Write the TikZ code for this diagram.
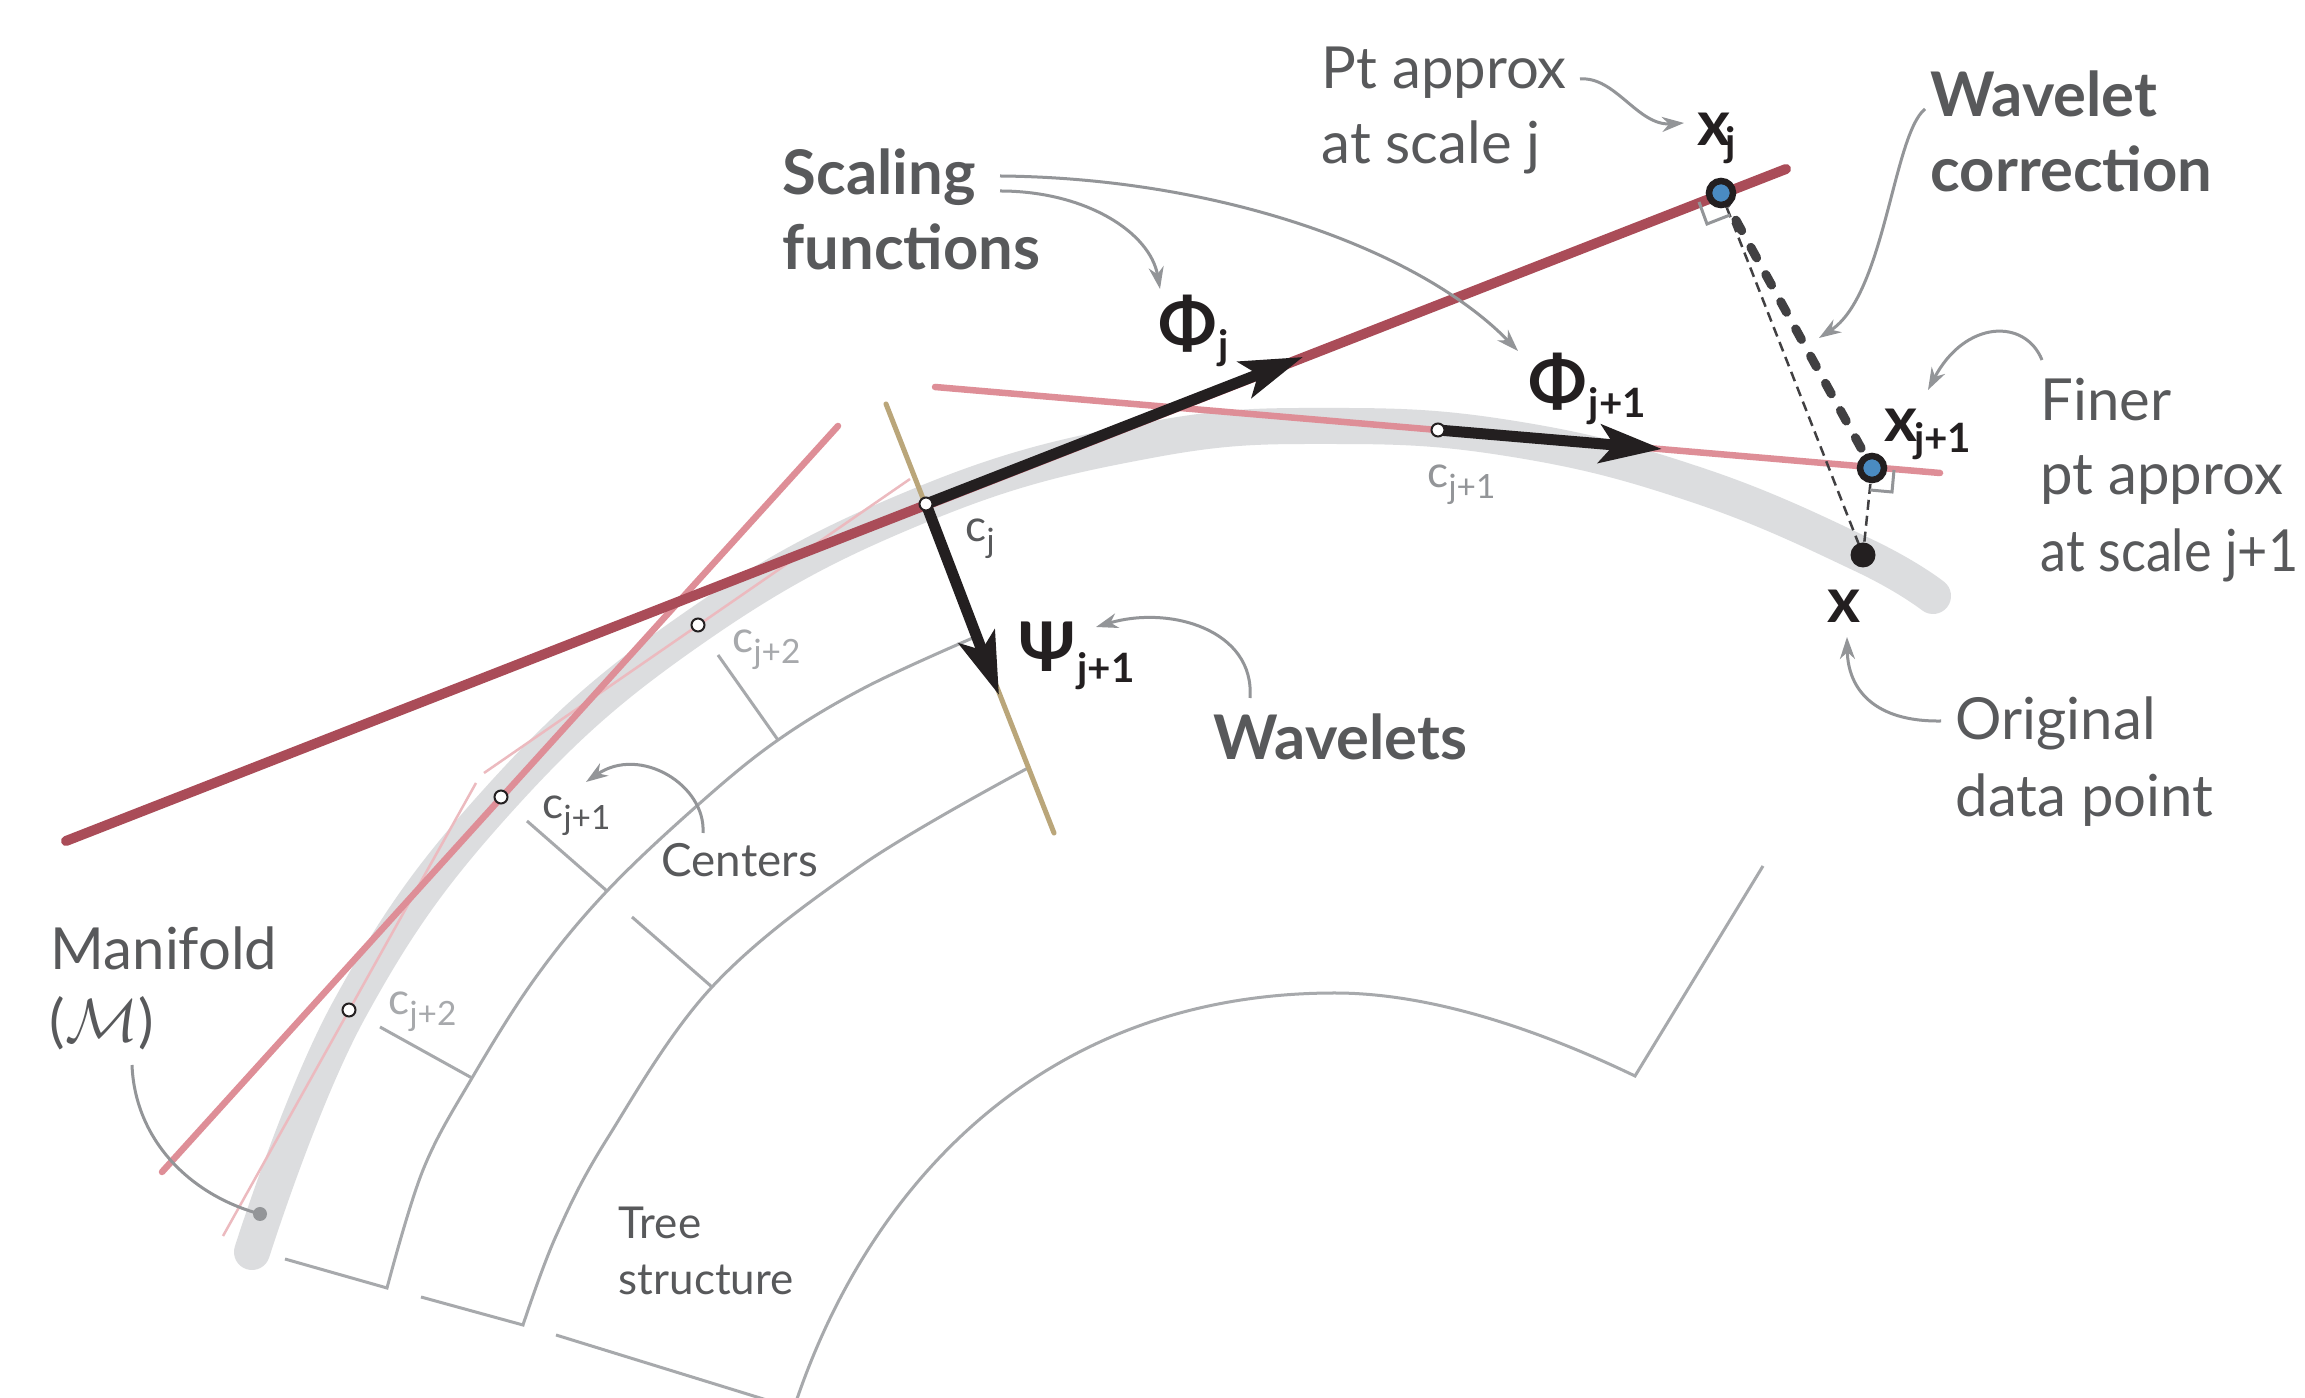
\documentclass[tikz,border=0pt]{standalone}
\usepackage{graphicx}
\usepackage{fontspec}
\setmainfont{Lato}
\usetikzlibrary{arrows.meta}
\definecolor{manif}{RGB}{220,221,223}
\definecolor{darkred}{RGB}{170,76,88}
\definecolor{pinkl}{RGB}{222,142,151}
\definecolor{pinkxl}{RGB}{236,186,191}
\definecolor{tanline}{RGB}{186,166,122}
\definecolor{treegray}{RGB}{167,169,172}
\definecolor{anngray}{RGB}{147,149,152}
\definecolor{txtgray}{RGB}{88,89,91}
\definecolor{lightlab}{RGB}{167,169,172}
\definecolor{inkblack}{RGB}{35,31,32}
\definecolor{ptblue}{RGB}{74,139,194}
\definecolor{dashgray}{RGB}{65,64,66}
\tikzset{
  tree/.style={draw=treegray, line width=0.03cm},
  ann/.style={draw=anngray, line width=0.03cm, -{Stealth[length=0.22cm,width=0.15cm,inset=0.07cm]}},
  bigarrow/.style={draw=inkblack, line width=0.11cm, -{Stealth[length=0.62cm,width=0.38cm,inset=0.14cm]}},
  lab/.style={inner sep=0pt, anchor=base west},
  reglab/.style={lab, text=txtgray, font=\fontsize{16.5}{20}\selectfont},
  boldlab/.style={lab, text=txtgray, font=\fontsize{17.5}{20}\selectfont\bfseries},
  mathlab/.style={lab, text=inkblack, font=\fontsize{19.5}{20}\selectfont\bfseries},
  clab/.style={lab, font=\fontsize{12.5}{13}\selectfont},
  opendot/.style={circle, draw=inkblack, fill=white, line width=0.02cm, minimum size=0.13cm, inner sep=0pt},
  ringdot/.style={circle, draw=inkblack, fill=ptblue, line width=0.065cm, minimum size=0.24cm, inner sep=0pt},
  fulldot/.style={circle, fill=inkblack, minimum size=0.25cm, inner sep=0pt},
  rangle/.style={draw=anngray, line width=0.03cm},
}
\newcommand{\bsub}[1]{\raisebox{-3pt}{\fontsize{11.5}{12}\selectfont #1}}
\newcommand{\csub}[1]{\raisebox{-3pt}{\fontsize{9.5}{10}\selectfont #1}}
\begin{document}
\begin{tikzpicture}[x=0.01cm,y=-0.01cm]
\useasboundingbox (0,0) rectangle (2305,1398);
\fill[white] (0,0) rectangle (2305,1398);
\begin{scope}
\clip (0,0) rectangle (2305,1398);
% key points
\coordinate (cj) at (926,504);
\coordinate (cj1) at (1438,430);
\coordinate (cl1) at (501,797);
\coordinate (cl2a) at (698,625);
\coordinate (cl2b) at (349,1010);
\coordinate (xj) at (1721,193);
\coordinate (xj1) at (1872,468);
\coordinate (xx) at (1863,555);
\coordinate (phijtip) at (1303,357);
\coordinate (phij1tip) at (1662,449);
\coordinate (psitip) at (999,695);
\coordinate (redA) at (66,841);
\coordinate (redB) at (1786,169);
\coordinate (pinkA) at (935,387);
\coordinate (pinkB) at (1940,473);
\coordinate (pinkC) at (838,426);
\coordinate (pinkD) at (162,1172);
\coordinate (lpA) at (484,773);
\coordinate (lpB) at (910,479);
\coordinate (lpC) at (476,783);
\coordinate (lpD) at (223,1236);
\coordinate (tanA) at (886,404);
\coordinate (tanB) at (1054,833);
\coordinate (mfdot) at (260,1214);

% manifold
\draw[manif, line width=0.36cm, line cap=round] plot[smooth, tension=0.7] coordinates {(252,1252) (349,1010) (501,797) (698,625) (926,503) (1150,440) (1338,426) (1520,440) (1700,486) (1863,555) (1933,596)};

% tree structure
\draw[tree] (285,1259) -- plot[smooth, tension=0.6] coordinates {(387,1288) (423,1170) (472,1078) (536,977) (607,891) (699,804) (778,740) (866,687) (975,637)};
\draw[tree] (421,1297) -- plot[smooth, tension=0.6] coordinates {(523,1325) (556,1236) (607,1139) (712,987) (862,865) (1028,768)};
\draw[tree] (556,1335) -- (812,1414);
\draw[tree] (792,1414) .. controls (862,1195) and (1035,993) .. (1335,993)
  .. controls (1440,993) and (1554,1037) .. (1635,1076) -- (1763,866);
\draw[tree] (778,740) -- (718,655);
\draw[tree] (607,891) -- (527,821);
\draw[tree] (472,1078) -- (380,1027);
\draw[tree] (712,987) -- (632,917);

% tangent lines
\draw[pinkxl, line width=0.025cm] (lpA) -- (lpB);
\draw[pinkxl, line width=0.025cm] (lpC) -- (lpD);
\draw[pinkl, line width=0.065cm, line cap=round] (pinkC) -- (pinkD);
\draw[pinkl, line width=0.065cm, line cap=round] (pinkA) -- (pinkB);
\draw[darkred, line width=0.1cm, line cap=round] (redA) -- (redB);
\draw[tanline, line width=0.05cm, line cap=round] (tanA) -- (tanB);

% dashed projections
\draw[dashgray, line width=0.025cm, dash pattern=on 0.1cm off 0.06cm] (xj) -- (xx);
\draw[dashgray, line width=0.025cm, dash pattern=on 0.1cm off 0.06cm] (xj1) -- (xx);
\draw[dashgray, line width=0.09cm, line cap=round, dash pattern=on 0.12cm off 0.19cm] (xj) -- (xj1);
\draw[rangle] (1699,202) -- (1707,224) -- (1730,215);
\draw[rangle] (1894,470) -- (1892,492) -- (1870,490);

% annotation arrows
\coordinate (ptA) at (1580,79);
\coordinate (ptB) at (1684,123);
\coordinate (wcA) at (1925,109);
\coordinate (wcB) at (1819,338);
\coordinate (fnA) at (2042,360);
\coordinate (fnB) at (1928,390);
\coordinate (orA) at (1941,721);
\coordinate (orB) at (1847,637);
\coordinate (scA) at (1000,176);
\coordinate (scB) at (1518,351);
\coordinate (scC) at (1000,191);
\coordinate (scD) at (1160,289);
\coordinate (wvA) at (1250,698);
\coordinate (wvB) at (1096,627);
\coordinate (ceA) at (703,833);
\coordinate (ceB) at (586,782);
\coordinate (mfA) at (132,1065);
\draw[ann] (ptA) .. controls (1615,76) and (1638,126) .. (ptB);
\draw[ann] (wcA) .. controls (1893,135) and (1885,295) .. (wcB);
\draw[ann] (fnA) .. controls (2025,318) and (1965,320) .. (fnB);
\draw[ann] (orA) .. controls (1875,722) and (1848,690) .. (orB);
\draw[ann] (scA) .. controls (1220,178) and (1420,250) .. (scB);
\draw[ann] (scC) .. controls (1085,191) and (1150,232) .. (scD);
\draw[ann] (wvA) .. controls (1255,630) and (1170,605) .. (wvB);
\draw[ann] (ceA) .. controls (706,785) and (640,745) .. (ceB);
\draw[draw=anngray, line width=0.03cm] (mfA) .. controls (135,1140) and (190,1195) .. (mfdot);
\fill[anngray] (mfdot) circle (7);

% basis vectors
\draw[bigarrow] (cj) -- (phijtip);
\draw[bigarrow] (cj1) -- (phij1tip);
\draw[bigarrow] (cj) -- (psitip);

% points
\node[opendot] (ncj) at (cj) {};
\node[opendot] (ncj1) at (cj1) {};
\node[opendot] (ncl1) at (cl1) {};
\node[opendot] (ncl2a) at (cl2a) {};
\node[opendot] (ncl2b) at (cl2b) {};
\node[ringdot] (nxj) at (xj) {};
\node[ringdot] (nxj1) at (xj1) {};
\node[fulldot] (nxx) at (xx) {};

% labels
\node[reglab] (pt1) at (1321,89) {Pt approx};
\node[reglab] (pt2) at (1321,164) {at scale j};
\node[boldlab] (wc1) at (1930,117) {Wavelet};
\node[boldlab] (wc2) at (1930,192) {correction};
\node[boldlab] (sc1) at (782,195) {Scaling};
\node[boldlab] (sc2) at (782,270) {functions};
\node[reglab] (fn1) at (2040,421) {Finer};
\node[reglab] (fn2) at (2040,495) {pt approx};
\node[reglab] (fn3) at (2040,572) {\scalebox{0.9}[1]{at scale j+1}};
\node[reglab] (or1) at (1955,740) {Original};
\node[reglab] (or2) at (1955,817) {data point};
\node[boldlab] (wv) at (1213,760) {Wavelets};
\node[reglab] (mf1) at (50,970) {Manifold};
\node[reglab] (mf2) at (49,1042) {($\mathcal{M}$)};
\node[lab, text=txtgray, font=\fontsize{12.5}{14}\selectfont] (tr1) at (618,1239) {Tree};
\node[lab, text=txtgray, font=\fontsize{12.5}{14}\selectfont] (tr2) at (618,1295) {structure};
\node[lab, text=txtgray, font=\fontsize{13}{14}\selectfont] (cen) at (661,877) {Centers};

\node[mathlab] (lphij) at (1158,349) {Φ\kern0.5pt\bsub{j}};
\node[mathlab] (lphij1) at (1528,407) {Φ\kern0.5pt\bsub{j+1}};
\node[mathlab] (lpsi) at (1018,672) {Ψ\kern0.5pt\bsub{j+1}};
\node[lab, text=inkblack, font=\fontsize{18}{20}\selectfont\bfseries] (lxj) at (1697,146) {x\kern-1.5pt\bsub{j}};
\node[lab, text=inkblack, font=\fontsize{18}{20}\selectfont\bfseries] (lxj1) at (1884,442) {x\kern-1pt\bsub{j+1}};
\node[lab, text=inkblack, font=\fontsize{18}{20}\selectfont\bfseries] (lxx) at (1827,623) {x};

\node[clab, text=txtgray] (lcj) at (965,542) {c\csub{j}};
\node[clab, text=anngray] (lcj1) at (1427,488) {c\csub{j+1}};
\node[clab, text=lightlab] (lcl2a) at (732,653) {c\csub{j+2}};
\node[clab, text=txtgray] (lcl1) at (542,819) {c\csub{j+1}};
\node[clab, text=lightlab] (lcl2b) at (388,1015) {c\csub{j+2}};
\end{scope}
\end{tikzpicture}
\end{document}
